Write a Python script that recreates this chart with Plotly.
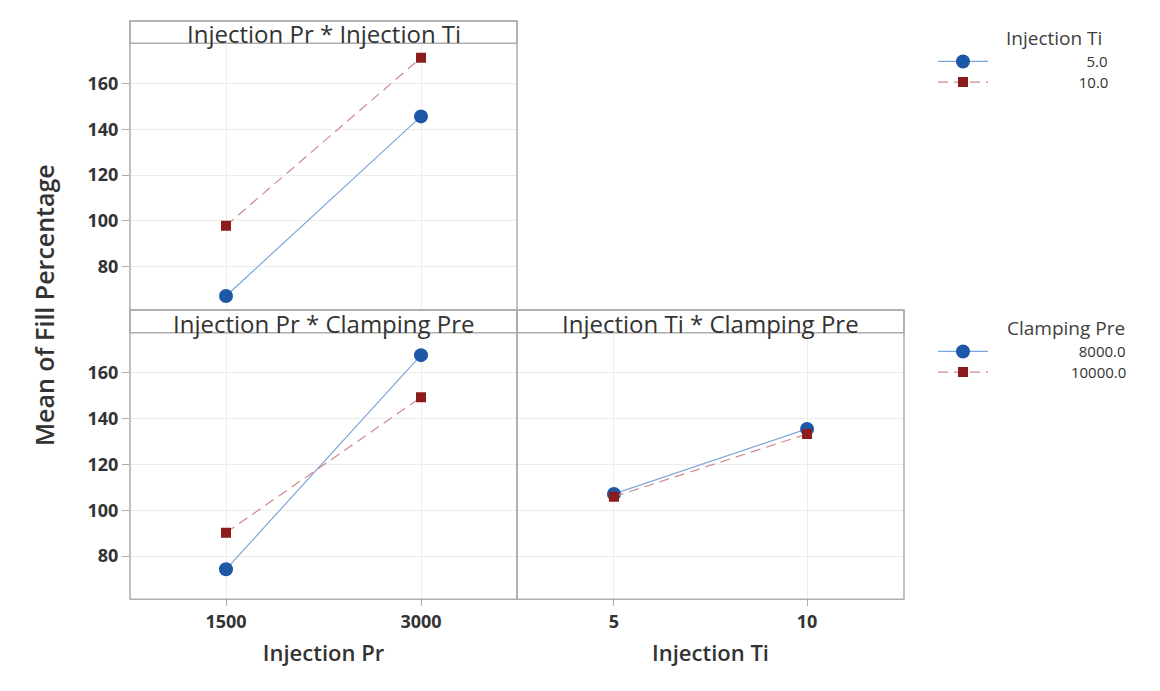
import plotly.graph_objects as go

# ---------------- data ----------------
inj_pr = [1500, 3000]
inj_ti = [5, 10]
ti_levels = ["5.0", "10.0"]
cp_levels = ["8000.0", "10000.0"]

pr_ti5 = [67.2, 145.6]
pr_ti10 = [97.9, 171.2]
pr_cp8000 = [74.2, 167.7]
pr_cp10000 = [90.2, 149.3]
ti_cp8000 = [107.1, 135.5]
ti_cp10000 = [105.9, 133.3]

y_ticks = [80, 100, 120, 140, 160]

panel_titles = ["Injection Pr * Injection Ti",
                "Injection Pr * Clamping Pre",
                "Injection Ti * Clamping Pre"]

# ---------------- styles / geometry ----------------
FONT = "Open Sans"
TXT = "#333333"
BLUE_M = "#1c58a6"
BLUE_L = "#7ca6da"
RED_M = "#8c1c1c"
RED_L = "#cf8a8a"
GRID = "#ececec"
FRAME = "#adadad"

PAGE_W, PAGE_H = 1160, 691
OFF = 8  # default page body margin
W, H = PAGE_W - OFF, PAGE_H - OFF


def px(x):
    return (x - OFF) / W


def py(y):
    return 1 - (y - OFF) / H


fig = go.Figure()


def add_pair(xv, y1, y2, xa, ya, names, legends, show):
    fig.add_trace(go.Scatter(
        x=xv, y=y1, xaxis=xa, yaxis=ya, mode="lines+markers",
        name=names[0], legend=legends[0], showlegend=show,
        line=dict(color=BLUE_L, width=1.2),
        marker=dict(symbol="circle", size=14, color=BLUE_M),
        hoverinfo="x+y"))
    fig.add_trace(go.Scatter(
        x=xv, y=y2, xaxis=xa, yaxis=ya, mode="lines+markers",
        name=names[1], legend=legends[1], showlegend=show,
        line=dict(color=RED_L, width=1.2, dash="10px,6px"),
        marker=dict(symbol="square", size=10, color=RED_M),
        hoverinfo="x+y"))


NB = "\u00a0"  # padding so the legend values sit right-aligned like the reference
ti_names = [NB * 24 + ti_levels[0], NB * 22 + ti_levels[1]]
cp_names = [NB * 22 + cp_levels[0], NB * 20 + cp_levels[1]]

add_pair(inj_pr, pr_ti5, pr_ti10, "x", "y", ti_names, ["legend", "legend2"], True)
add_pair(inj_pr, pr_cp8000, pr_cp10000, "x2", "y2", cp_names, ["legend3", "legend4"], True)
add_pair(inj_ti, ti_cp8000, ti_cp10000, "x3", "y3", cp_names, ["legend3", "legend4"], False)

# panel geometry (page pixels)
LX0, MX, RX1 = 130, 517, 904
TOP_STRIP, TOP_PLOT, MID, MID_PLOT, BOT = 21, 43.3, 310, 332.7, 599.3
YR = [61.1, 177.5]
XR_PR = [761.5, 3738.5]
XR_TI = [2.49, 12.51]

tickfont = dict(family=FONT, size=18, color=TXT, weight=700)
axis_common = dict(showgrid=True, gridcolor=GRID, gridwidth=1, zeroline=False,
                   showline=False, tickfont=tickfont, tickcolor=FRAME)
title_font = dict(family=FONT, size=22, color=TXT, weight=600)

fig.update_layout(
    xaxis=dict(domain=[px(LX0), px(MX)], anchor="y", range=XR_PR,
               tickvals=inj_pr, showticklabels=False, ticks="", **axis_common),
    yaxis=dict(domain=[py(MID), py(TOP_PLOT)], anchor="x", range=YR,
               tickvals=y_ticks, ticks="outside", ticklen=7, **axis_common),
    xaxis2=dict(domain=[px(LX0), px(MX)], anchor="y2", range=XR_PR,
                tickvals=inj_pr, ticks="outside", ticklen=6,
                title=dict(text="Injection Pr", standoff=13, font=title_font),
                **axis_common),
    yaxis2=dict(domain=[py(BOT), py(MID_PLOT)], anchor="x2", range=YR,
                tickvals=y_ticks, ticks="outside", ticklen=7, **axis_common),
    xaxis3=dict(domain=[px(MX), px(RX1)], anchor="y3", range=XR_TI,
                tickvals=inj_ti, ticks="outside", ticklen=6,
                title=dict(text="Injection Ti", standoff=13, font=title_font),
                **axis_common),
    yaxis3=dict(domain=[py(BOT), py(MID_PLOT)], anchor="x3", range=YR,
                tickvals=y_ticks, showticklabels=False, ticks="", **axis_common),
)

# frames and strips
shapes = []


def rect(x0, y0, x1, y1, color=FRAME, w=1.5):
    shapes.append(dict(type="rect", xref="paper", yref="paper",
                       x0=px(x0), x1=px(x1), y0=py(y1), y1=py(y0),
                       line=dict(color=color, width=w), fillcolor="rgba(0,0,0,0)",
                       layer="above"))


rect(LX0, TOP_STRIP, MX, MID)
rect(LX0, TOP_STRIP, MX, TOP_PLOT)
rect(LX0, MID, MX, BOT)
rect(LX0, MID, MX, MID_PLOT)
rect(MX, MID, RX1, BOT)
rect(MX, MID, RX1, MID_PLOT)
# outer chart border (right edge visible)
shapes.append(dict(type="line", xref="paper", yref="paper",
                   x0=px(1158), x1=px(1158), y0=0, y1=1,
                   line=dict(color="#d2d2d2", width=2)))

annotations = []
strip_centers = [((LX0 + MX) / 2, 33.5), ((LX0 + MX) / 2, 323.3), ((MX + RX1) / 2, 323.3)]
for t, (cx, cy) in zip(panel_titles, strip_centers):
    annotations.append(dict(text=t, xref="paper", yref="paper", x=px(cx), y=py(cy),
                            xanchor="center", yanchor="middle", showarrow=False,
                            font=dict(family=FONT, size=24, color=TXT)))

annotations.append(dict(text="Mean of Fill Percentage", xref="paper", yref="paper",
                        x=px(44), y=py(305), textangle=-90, showarrow=False,
                        xanchor="center", yanchor="middle",
                        font=dict(family=FONT, size=25, color=TXT, weight=600)))

leg_title_font = dict(family=FONT, size=19, color="#404040")
annotations.append(dict(text="Injection Ti", xref="paper", yref="paper",
                        x=px(1004), y=py(38), xanchor="left", yanchor="middle",
                        showarrow=False, font=leg_title_font))
annotations.append(dict(text="Clamping Pre", xref="paper", yref="paper",
                        x=px(1005), y=py(328), xanchor="left", yanchor="middle",
                        showarrow=False, font=leg_title_font))

legend_style = dict(xanchor="left", yanchor="middle", bgcolor="rgba(0,0,0,0)",
                    font=dict(family=FONT, size=15, color="#333333"),
                    tracegroupgap=0, borderwidth=0, itemwidth=50)

fig.update_layout(
    width=W, height=H,
    margin=dict(l=0, r=0, t=0, b=0),
    paper_bgcolor="white", plot_bgcolor="white",
    font=dict(family=FONT, color=TXT),
    shapes=shapes, annotations=annotations,
    legend=dict(x=px(933), y=py(61.7), **legend_style),
    legend2=dict(x=px(933), y=py(82.3), **legend_style),
    legend3=dict(x=px(933), y=py(351.7), **legend_style),
    legend4=dict(x=px(933), y=py(372.3), **legend_style),
)

fig.write_html("out.html")
